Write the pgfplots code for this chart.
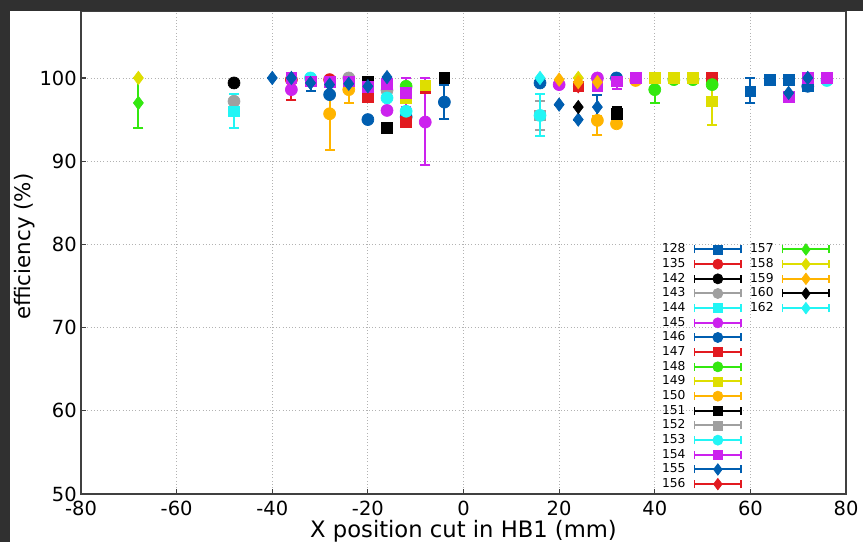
\documentclass[border=0pt]{standalone}
\usepackage{fontspec}
\setmainfont{DejaVu Sans}
\usepackage{pgfplots}
\pgfplotsset{compat=1.18}
\definecolor{cb}{RGB}{0,94,176}
\definecolor{cr}{RGB}{226,26,32}
\definecolor{ck}{RGB}{0,0,0}
\definecolor{cg}{RGB}{160,160,160}
\definecolor{cc}{RGB}{34,245,245}
\definecolor{cm}{RGB}{204,34,238}
\definecolor{cgr}{RGB}{51,232,15}
\definecolor{cy}{RGB}{222,222,0}
\definecolor{co}{RGB}{255,180,0}
\definecolor{frame}{RGB}{48,48,48}
\pgfplotsset{
 ser/.style 2 args={only marks, forget plot, color=#1, mark=#2, line width=1.5pt,
   mark options={solid, fill=#1, draw=#1, line width=0.5pt},
   error bars/y dir=both, error bars/y explicit,
   error bars/error mark=|,
   error bars/error bar style={line width=1.5pt, color=#1},
   error bars/error mark options={line width=1.5pt, mark size=3.75pt, color=#1}},
 sq/.style={ser={#1}{square*}, mark size=4pt},
 ci/.style={ser={#1}{*}, mark size=4.5pt},
 di/.style={ser={#1}{diamond*}, mark size=5pt},
 lg/.style 2 args={color=#1, mark=#2, line width=1.5pt, mark options={solid, fill=#1, draw=#1, line width=0.5pt}},
 lsq/.style={lg={#1}{square*}, mark size=3.4pt},
 lci/.style={lg={#1}{*}, mark size=3.8pt},
 ldi/.style={lg={#1}{diamond*}, mark size=4.3pt},
}
\begin{document}
\begin{tikzpicture}
\useasboundingbox (-60.75pt,-36pt) rectangle (586.5pt,370.5pt);
\fill[white] (-60.75pt,-36pt) rectangle (586.5pt,370.5pt);
\fill[frame] (-60.75pt,-36pt) rectangle (-53.25pt,370.5pt);
\begin{axis}[
 at={(0,0)}, anchor=south west,
 scale only axis, width=573.75pt, height=362.25pt,
 xmin=-80, xmax=80, ymin=50, ymax=108.05,
 xtick={-80,-60,...,80}, ytick={50,60,...,100},
 grid=major, grid style={dotted, black!30, line width=0.6pt},
 axis line style={black!75, line width=1pt},
 tick style={black!75, line width=0.8pt},
 major tick length=4pt, tick align=inside, tick pos=left,
 /pgf/number format/assume math mode=true,
 ticklabel style={font=\fontsize{14.6}{16}\selectfont},
 yticklabel style={inner sep=0pt, xshift=-3pt},
 xticklabel style={inner sep=0pt, yshift=-5pt},
 xlabel={X position cut in HB1 (mm)},
 ylabel={efficiency (\%)},
 xlabel style={font=\fontsize{17}{19}\selectfont, at={(axis description cs:0.5,0)}, anchor=base, yshift=-32.6pt},
 ylabel style={font=\fontsize{16}{18}\selectfont, at={(axis description cs:-0.0654,0.512)}, anchor=base},
 legend style={at={(axis cs:41.2,80.3)}, anchor=north west, draw=none, fill=none,
   inner sep=0pt, font=\fontsize{9.2}{10}\selectfont,
   nodes={inner sep=1pt, text height=7pt, text depth=2pt},
   /tikz/column sep=5pt},
 legend cell align=left,
 legend plot pos=right,
 legend columns=2,
 legend image code/.code={
   \draw[#1] (0pt,0pt) -- (35pt,0pt);
   \draw[#1, line width=1.2pt] (0pt,-3pt) -- (0pt,3pt) (35pt,-3pt) -- (35pt,3pt);
   \draw[#1] plot coordinates {(17.5pt,0pt)};
 },
]
% 128
\addplot[sq=cb] coordinates {(60,98.4) += (0,1.6) -= (0,1.4) (64,99.8) +- (0,0) (68,99.8) +- (0,0) (72,99.0) +- (0,0.3)};
% 135
\addplot[ci=cr] coordinates {(-36,99.8) += (0,0) -= (0,2.4) (-28,99.8) +- (0,0.2)};
% 142
\addplot[ci=ck] coordinates {(-48,99.4) +- (0,0)};
% 143
\addplot[ci=cg] coordinates {(-48,97.2) +- (0,0) (-24,100) +- (0,0) (-16,98.5) +- (0,0)};
% 144
\addplot[sq=cc] coordinates {(-48,96.0) += (0,2.1) -= (0,2.0)};
% 145
\addplot[ci=cm] coordinates {(-36,98.6) +- (0,0) (-16,96.1) +- (0,0) (-8,94.7) += (0,5.3) -= (0,5.2) (20,99.2) +- (0,0) (28,100) +- (0,0)};
% 146
\addplot[ci=cb] coordinates {(-28,98.0) +- (0,0) (-20,95.0) +- (0,0) (-12,95.3) +- (0,0) (-4,97.1) +- (0,2.0) (16,99.4) +- (0,0) (32,100) +- (0,0) (72,99.0) +- (0,0)};
% 147
\addplot[sq=cr] coordinates {(-20,97.7) +- (0,0) (-12,94.7) +- (0,0) (-8,98.8) +- (0,0) (24,99.0) += (0,0) -= (0,0.6) (52,100) +- (0,0)};
% 148
\addplot[ci=cgr] coordinates {(-12,99.0) +- (0,0) (40,98.6) += (0,1.4) -= (0,1.6) (44,99.8) +- (0,0) (48,99.8) +- (0,0) (52,99.2) +- (0,0.4)};
% 149
\addplot[sq=cy] coordinates {(-12,97.6) +- (0,0) (-8,99.1) +- (0,0) (40,100) +- (0,0) (44,100) +- (0,0) (48,100) +- (0,0) (52,97.2) +- (0,2.85)};
% 150
\addplot[ci=co] coordinates {(-28,95.7) += (0,4.3) -= (0,4.4) (-24,98.6) += (0,0.5) -= (0,1.6) (28,94.9) += (0,0.5) -= (0,1.7) (32,94.5) +- (0,0) (36,99.7) +- (0,0)};
% 151
\addplot[sq=ck] coordinates {(-20,99.6) +- (0,0) (-16,94.0) +- (0,0) (-4,100) +- (0,0) (32,95.7) +- (0,0.8)};
% 152
\addplot[sq=cg] coordinates {(16,95.5) += (0,1.7) -= (0,1.8)};
% 153
\addplot[ci=cc] coordinates {(-32,100) +- (0,0) (-16,97.6) +- (0,0) (-12,96.0) +- (0,0) (16,95.5) += (0,2.6) -= (0,2.5) (76,99.7) +- (0,0)};
% 154
\addplot[sq=cm] coordinates {(-36,100) +- (0,0) (-32,99.6) +- (0,0) (-28,99.5) +- (0,0) (-24,99.6) +- (0,0) (-20,98.9) +- (0,0) (-16,99.3) +- (0,0) (-12,98.2) += (0,1.8) -= (0,1.7) (28,99.0) +- (0,0) (32,99.6) += (0,0) -= (0,0.9) (36,100) +- (0,0) (68,97.7) +- (0,0) (72,100) +- (0,0) (76,100) +- (0,0)};
% 155
\addplot[di=cb] coordinates {(-40,100) +- (0,0) (-36,100) +- (0,0) (-32,99.4) += (0,0) -= (0,1.0) (-28,99.2) +- (0,0) (-24,99.3) +- (0,0) (-20,99.0) +- (0,0) (-16,100.1) +- (0,0) (20,96.8) +- (0,0) (24,95.0) +- (0,0) (28,96.5) +- (0,1.5) (68,98.2) +- (0,0) (72,100) +- (0,0)};
% 156
\addplot[di=cr] coordinates {(24,99.0) +- (0,0)};
% 157
\addplot[di=cgr] coordinates {(-68,97.0) +- (0,3.0)};
% 158
\addplot[di=cy] coordinates {(-68,100) +- (0,0) (24,100) +- (0,0)};
% 159
\addplot[di=co] coordinates {(20,99.8) +- (0,0) (24,99.5) +- (0,0) (28,99.5) +- (0,0)};
% 160
\addplot[di=ck] coordinates {(24,96.5) +- (0,0)};
% 162
\addplot[di=cc] coordinates {(16,100) +- (0,0)};
% legend, laid out column by column
\addlegendimage{lsq=cb}\addlegendentry{128}
\addlegendimage{ldi=cgr}\addlegendentry{157}
\addlegendimage{lci=cr}\addlegendentry{135}
\addlegendimage{ldi=cy}\addlegendentry{158}
\addlegendimage{lci=ck}\addlegendentry{142}
\addlegendimage{ldi=co}\addlegendentry{159}
\addlegendimage{lci=cg}\addlegendentry{143}
\addlegendimage{ldi=ck}\addlegendentry{160}
\addlegendimage{lsq=cc}\addlegendentry{144}
\addlegendimage{ldi=cc}\addlegendentry{162}
\addlegendimage{lci=cm}\addlegendentry{145}
\addlegendimage{empty legend}\addlegendentry{}
\addlegendimage{lci=cb}\addlegendentry{146}
\addlegendimage{empty legend}\addlegendentry{}
\addlegendimage{lsq=cr}\addlegendentry{147}
\addlegendimage{empty legend}\addlegendentry{}
\addlegendimage{lci=cgr}\addlegendentry{148}
\addlegendimage{empty legend}\addlegendentry{}
\addlegendimage{lsq=cy}\addlegendentry{149}
\addlegendimage{empty legend}\addlegendentry{}
\addlegendimage{lci=co}\addlegendentry{150}
\addlegendimage{empty legend}\addlegendentry{}
\addlegendimage{lsq=ck}\addlegendentry{151}
\addlegendimage{empty legend}\addlegendentry{}
\addlegendimage{lsq=cg}\addlegendentry{152}
\addlegendimage{empty legend}\addlegendentry{}
\addlegendimage{lci=cc}\addlegendentry{153}
\addlegendimage{empty legend}\addlegendentry{}
\addlegendimage{lsq=cm}\addlegendentry{154}
\addlegendimage{empty legend}\addlegendentry{}
\addlegendimage{ldi=cb}\addlegendentry{155}
\addlegendimage{empty legend}\addlegendentry{}
\addlegendimage{ldi=cr}\addlegendentry{156}
\end{axis}
\fill[frame] (-60.75pt,362.25pt) rectangle (586.5pt,370.5pt);
\end{tikzpicture}
\end{document}
